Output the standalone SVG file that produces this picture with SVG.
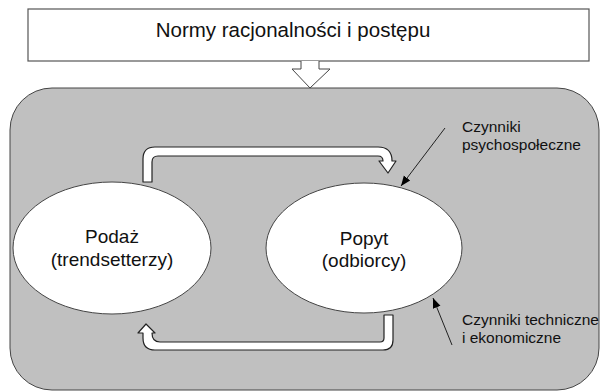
<svg xmlns="http://www.w3.org/2000/svg" width="601" height="392" viewBox="0 0 601 392">
<defs>
<marker id="ah" viewBox="0 0 10 10" refX="10" refY="5" markerWidth="10" markerHeight="10" markerUnits="userSpaceOnUse" orient="auto">
<path d="M0,1 L10,5 L0,9 Z" fill="#000"/>
</marker>
</defs>
<style>
.t{font-family:"Liberation Sans",Arial,sans-serif;fill:#111;}
.node{fill:#fff;stroke:#444;stroke-width:1;}
.band{fill:#fff;stroke:#222;stroke-width:1.2;stroke-linejoin:round;}
.call{stroke:#222;stroke-width:1;fill:none;}
</style>
<g id="norms">
<rect x="28" y="9" width="561" height="52" fill="#fff" stroke="#555" stroke-width="1.2"/>
<text class="t" x="293" y="37" font-size="20.5" text-anchor="middle">Normy racjonalności i postępu</text>
</g>
<g id="system">
<rect x="10" y="88" width="589" height="302" rx="42" ry="42" fill="#c0c0c0" stroke="#444" stroke-width="1"/>
</g>
<g id="down-arrow">
<path d="M301,61 L319,61 L319,69 L330,69 L310,88 L292,69 L301,69 Z" fill="#fff" stroke="none"/>
<path d="M301,61 L301,69 L292,69 L310,88 L330,69 L319,69 L319,61" fill="none" stroke="#444" stroke-width="1"/>
</g>
<g id="podaz">
<ellipse class="node" cx="112" cy="248" rx="99" ry="66"/>
<text class="t" x="112" y="243" font-size="19" text-anchor="middle">Podaż</text>
<text class="t" x="112" y="266" font-size="19" text-anchor="middle">(trendsetterzy)</text>
</g>
<g id="popyt">
<ellipse class="node" cx="364" cy="248" rx="98" ry="65"/>
<text class="t" x="364" y="245" font-size="19" text-anchor="middle">Popyt</text>
<text class="t" x="364" y="267" font-size="19" text-anchor="middle">(odbiorcy)</text>
</g>
<g id="label-psycho">
<text class="t" x="462" y="132" font-size="15.5">Czynniki</text>
<text class="t" x="462" y="150" font-size="15.5">psychospołeczne</text>
</g>
<g id="label-tech">
<text class="t" x="462" y="325" font-size="15.5">Czynniki techniczne</text>
<text class="t" x="462" y="343" font-size="15.5">i ekonomiczne</text>
</g>
<g id="connectors">
<path class="band" d="M143,182 L143,159 Q143,147 155,147 L378,147 Q392,147 392,161 L396,161 L388,173 L379,161 L383,161 Q383,156 378,156 L158,156 Q152,156 152,162 L152,182 Z"/>
<path class="band" d="M393,315 L393,340 Q393,350 383,350 L155,350 Q143,350 143,338 L143,333 L138,333 L146,324 L155,333 L152,333 Q152,342 160,342 L380,342 Q384,342 384,338 L384,315 Z"/>
<line class="call" x1="445" y1="128" x2="401" y2="186" marker-end="url(#ah)"/>
<line class="call" x1="452" y1="345" x2="433" y2="298" marker-end="url(#ah)"/>
</g>
</svg>
